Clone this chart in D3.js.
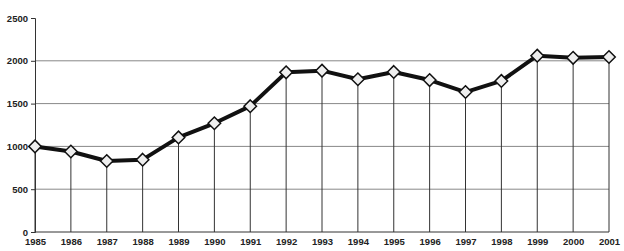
<!DOCTYPE html>
<html>
<head>
<meta charset="utf-8">
<script src="https://cdn.jsdelivr.net/npm/d3@7"></script>
<style>
  body { margin: 0; background: #fff; }
  .axis text { font-family: 'Liberation Sans', Arial, sans-serif; font-size: 9.5px; font-weight: bold; fill: #222; }
</style>
</head>
<body>
<div id="chart"></div>
<script>
const years = ['1985', '1986', '1987', '1988', '1989', '1990', '1991', '1992', '1993',
  '1994', '1995', '1996', '1997', '1998', '1999', '2000', '2001']
const values = [1000, 940, 830, 845, 1105, 1270, 1470, 1865, 1885, 1785, 1870, 1775,
  1635, 1765, 2060, 2035, 2045]
const yTicks = [0, 500, 1000, 1500, 2000, 2500]

const margin = { top: 18, left: 35, right: 15, bottom: 19 }
const width = 624 - margin.left - margin.right
const height = 251 - margin.top - margin.bottom

const svg = d3
  .select('#chart')
  .append('svg')
  .attr('width', 624)
  .attr('height', 251)
  .append('g')
  .attr('transform', 'translate(' + margin.left + ',' + margin.top + ')')

const xPositionScale = d3
  .scalePoint()
  .domain(years)
  .range([0, 574])

const yPositionScale = d3
  .scaleLinear()
  .domain([0, 2500])
  .range([height, 0])

// horizontal gridlines
svg
  .selectAll('.grid')
  .data(yTicks.filter(d => d > 0 && d < 2500))
  .enter()
  .append('line')
  .attr('class', 'grid')
  .attr('x1', 0)
  .attr('x2', width)
  .attr('y1', d => yPositionScale(d))
  .attr('y2', d => yPositionScale(d))
  .attr('stroke', '#888')
  .attr('stroke-width', 1)

// drop lines
svg
  .selectAll('.drop')
  .data(years)
  .enter()
  .append('line')
  .attr('class', 'drop')
  .attr('x1', d => xPositionScale(d))
  .attr('x2', d => xPositionScale(d))
  .attr('y1', (d, i) => yPositionScale(values[i]))
  .attr('y2', height)
  .attr('stroke', '#333')
  .attr('stroke-width', 1)

const yAxis = d3
  .axisLeft(yPositionScale)
  .tickValues(yTicks)
  .tickFormat(d3.format('d'))
  .tickSize(4)
  .tickPadding(3)
svg
  .append('g')
  .attr('class', 'axis y-axis')
  .call(yAxis)
svg.selectAll('.y-axis path').attr('stroke', '#333')
svg.selectAll('.y-axis line').attr('stroke', '#333')

const xAxis = d3.axisBottom(xPositionScale).tickSize(0).tickPadding(6)
svg
  .append('g')
  .attr('class', 'axis x-axis')
  .attr('transform', 'translate(0,' + height + ')')
  .call(xAxis)
svg.selectAll('.x-axis path').attr('d', 'M0,0H' + width).attr('stroke', '#333')

const line = d3
  .line()
  .x((d, i) => xPositionScale(years[i]))
  .y(d => yPositionScale(d))

svg
  .append('path')
  .datum(values)
  .attr('d', line)
  .attr('fill', 'none')
  .attr('stroke', '#111')
  .attr('stroke-width', 4)
  .attr('stroke-linejoin', 'round')

svg
  .selectAll('.marker')
  .data(values)
  .enter()
  .append('path')
  .attr('class', 'marker')
  .attr('d', d3.symbol().type(d3.symbolDiamond2).size(100))
  .attr('transform', (d, i) => 'translate(' + xPositionScale(years[i]) + ',' + yPositionScale(d) + ')')
  .attr('fill', '#eee')
  .attr('stroke', '#111')
  .attr('stroke-width', 1.5)
</script>
</body>
</html>
